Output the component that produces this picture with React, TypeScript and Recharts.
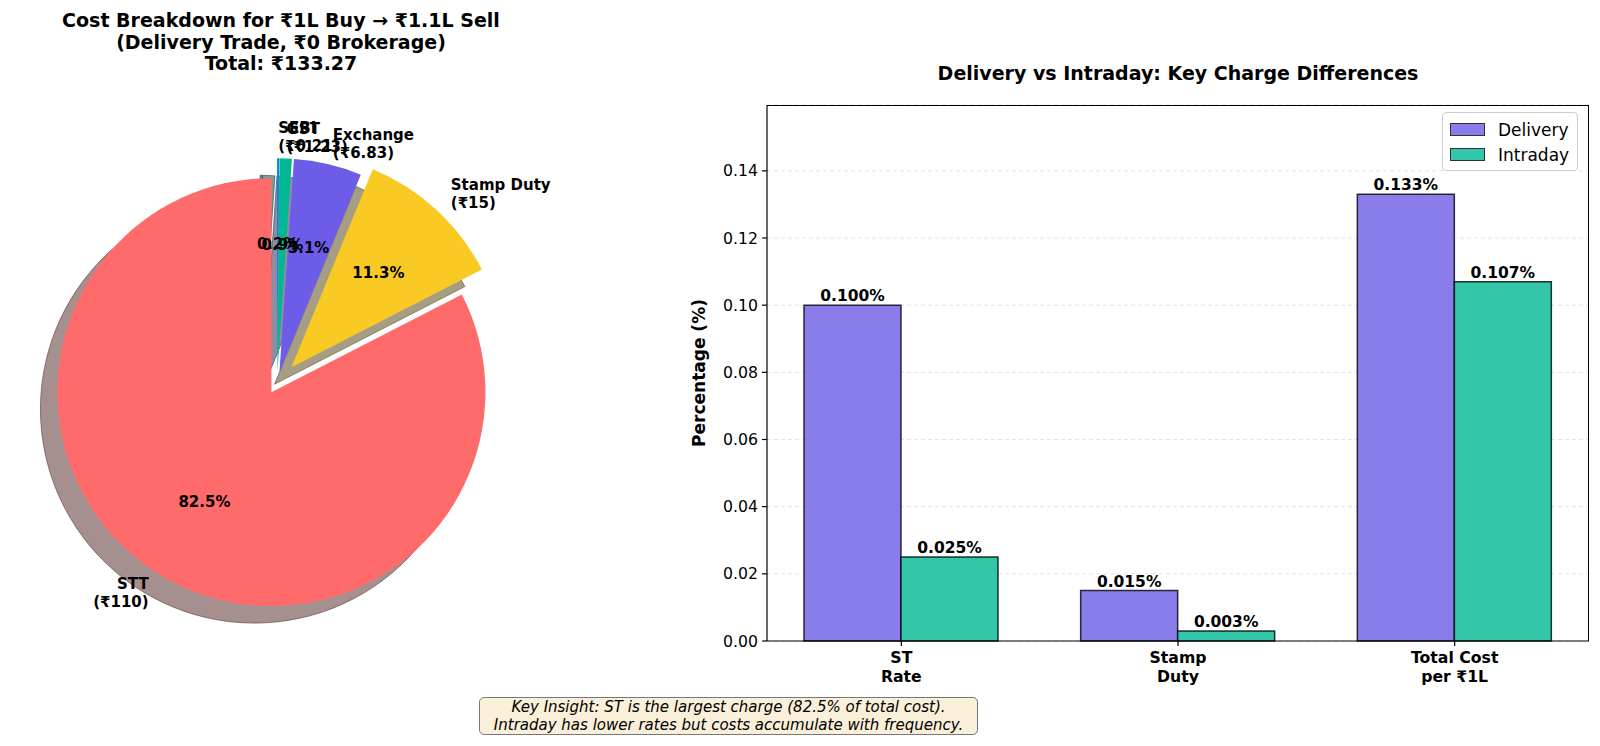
import {
  Bar,
  BarChart,
  CartesianGrid,
  Cell,
  LabelList,
  Legend,
  Pie,
  PieChart,
  XAxis,
  YAxis,
} from "recharts";

const FONT = "'DejaVu Sans', sans-serif";

// pie data (delivery trade costs, rupees)
const sliceNames = ["STT", "Stamp Duty", "Exchange", "GST", "SEBI"];
const sliceValues = [110, 15, 6.83, 1.23, 0.21];
const sliceColors = ["#FF6B6B", "#F9CA24", "#6C5CE7", "#00B894", "#0984E3"];
const sliceExplode = [0.05, 0.1, 0.05, 0.05, 0.05];

// bar data (% of turnover)
const chargeCategories = ["ST\nRate", "Stamp\nDuty", "Total Cost\nper ₹1L"];
const deliveryValues = [0.1, 0.015, 0.133];
const intradayValues = [0.025, 0.003, 0.107];
const yTicks = [0, 0.02, 0.04, 0.06, 0.08, 0.1, 0.12, 0.14];

const PIE_CX = 272;
const PIE_CY = 378;
const PIE_R = 214;
const SHADOW = 17;
const RAD = Math.PI / 180;

const pieData = sliceNames.map((name, i) => ({ name, value: sliceValues[i] }));
const barData = chargeCategories.map((category, i) => ({
  category,
  Delivery: deliveryValues[i],
  Intraday: intradayValues[i],
}));
const yMax = Math.max(...deliveryValues, ...intradayValues) * 1.2;

// explode offsets follow each slice's mid angle
const total = sliceValues.reduce((a, b) => a + b, 0);
const midAngles: number[] = [];
let acc = 0;
sliceValues.forEach((v) => {
  midAngles.push(90 + ((acc + v / 2) / total) * 360);
  acc += v;
});
const explodeOffset = (i: number) => {
  const d = sliceExplode[i] * PIE_R;
  return {
    dx: d * Math.cos(midAngles[i] * RAD),
    dy: -d * Math.sin(midAngles[i] * RAD),
  };
};

const shade = (hex: string) => {
  const n = parseInt(hex.slice(1), 16);
  const r = Math.round(((n >> 16) & 255) * 0.3);
  const g = Math.round(((n >> 8) & 255) * 0.3);
  const b = Math.round((n & 255) * 0.3);
  return `rgb(${r},${g},${b})`;
};

const renderPieLabel = (props: any) => {
  const { cx, cy, midAngle, outerRadius, index, percent, name, value } = props;
  const e = sliceExplode[index] * outerRadius;
  const cos = Math.cos(-midAngle * RAD);
  const sin = Math.sin(-midAngle * RAD);
  const ox = cx + e * cos;
  const oy = cy + e * sin;
  const lx = ox + 1.1 * outerRadius * cos;
  const ly = oy + 1.1 * outerRadius * sin;
  const px = ox + 0.6 * outerRadius * cos;
  const py = oy + 0.6 * outerRadius * sin;
  const anchor = cos >= 0 ? "start" : "end";
  return (
    <g key={`lbl-${index}`}>
      <text
        x={lx}
        y={ly}
        textAnchor={anchor}
        fontFamily={FONT}
        fontWeight="bold"
        fontSize={15}
        fill="#000"
      >
        <tspan x={lx} dy={-3.5}>
          {name}
        </tspan>
        <tspan x={lx} dy={18}>
          (₹{value})
        </tspan>
      </text>
      <text
        x={px}
        y={py}
        dy={5.5}
        textAnchor="middle"
        fontFamily={FONT}
        fontWeight="bold"
        fontSize={15}
        fill="#000"
      >
        {(percent * 100).toFixed(1)}%
      </text>
    </g>
  );
};

const CategoryTick = (props: any) => {
  const { x, y, payload } = props;
  const lines = String(payload.value).split("\n");
  return (
    <text
      x={x}
      y={y}
      textAnchor="middle"
      fontFamily={FONT}
      fontWeight="bold"
      fontSize={15.7}
      fill="#000"
    >
      {lines.map((line, i) => (
        <tspan key={i} x={x} dy={i === 0 ? 15 : 19}>
          {line}
        </tspan>
      ))}
    </text>
  );
};

const BarLegend = () => (
  <div
    style={{
      border: "1px solid #cccccc",
      borderRadius: 4,
      background: "rgba(255,255,255,0.8)",
      padding: "4px 8px 3px 7px",
      fontFamily: FONT,
      fontSize: 17,
    }}
  >
    {[
      { label: "Delivery", color: "#897DEC" },
      { label: "Intraday", color: "#33C6A9" },
    ].map((item) => (
      <div
        key={item.label}
        style={{ display: "flex", alignItems: "center", height: 25 }}
      >
        <span
          style={{
            display: "inline-block",
            width: 33,
            height: 11,
            background: item.color,
            border: "1.5px solid #333",
            marginRight: 13,
          }}
        />
        <span>{item.label}</span>
      </div>
    ))}
  </div>
);

export default function App() {
  return (
    <div
      style={{
        position: "absolute",
        left: 0,
        top: 0,
        width: 1600,
        height: 746,
        background: "#fff",
        fontFamily: FONT,
        color: "#000",
      }}
    >
      <div
        style={{
          position: "absolute",
          left: 31,
          top: 10,
          width: 500,
          textAlign: "center",
          fontWeight: "bold",
          fontSize: 19,
          lineHeight: "21.5px",
        }}
      >
        Cost Breakdown for ₹1L Buy → ₹1.1L Sell
        <br />
        (Delivery Trade, ₹0 Brokerage)
        <br />
        Total: ₹133.27
      </div>

      <div style={{ position: "absolute", left: 0, top: 0 }}>
        <PieChart width={620} height={690}>
          {sliceNames.map((_, i) => {
            const { dx, dy } = explodeOffset(i);
            return (
              <Pie
                key={`shadow-${i}`}
                data={pieData}
                dataKey="value"
                cx={PIE_CX + dx - SHADOW}
                cy={PIE_CY + dy + SHADOW}
                outerRadius={PIE_R}
                startAngle={90}
                endAngle={450}
                stroke="none"
                isAnimationActive={false}
              >
                {pieData.map((_, j) => (
                  <Cell
                    key={j}
                    fill={j === i ? shade(sliceColors[j]) : "none"}
                    fillOpacity={0.5}
                    stroke={j === i ? shade(sliceColors[j]) : "none"}
                    strokeOpacity={0.5}
                    strokeWidth={1}
                  />
                ))}
              </Pie>
            );
          })}
          {sliceNames.map((_, i) => {
            const { dx, dy } = explodeOffset(i);
            return (
              <Pie
                key={`slice-${i}`}
                data={pieData}
                dataKey="value"
                cx={PIE_CX + dx}
                cy={PIE_CY + dy}
                outerRadius={PIE_R}
                startAngle={90}
                endAngle={450}
                stroke="none"
                isAnimationActive={false}
              >
                {pieData.map((_, j) => (
                  <Cell key={j} fill={j === i ? sliceColors[j] : "none"} />
                ))}
              </Pie>
            );
          })}
          <Pie
            data={pieData}
            dataKey="value"
            cx={PIE_CX}
            cy={PIE_CY}
            outerRadius={PIE_R}
            startAngle={90}
            endAngle={450}
            fill="none"
            stroke="none"
            label={renderPieLabel}
            labelLine={false}
            isAnimationActive={false}
          />
        </PieChart>
      </div>

      <div
        style={{
          position: "absolute",
          left: 878,
          top: 61,
          width: 600,
          textAlign: "center",
          fontWeight: "bold",
          fontSize: 19,
          lineHeight: "24px",
        }}
      >
        Delivery vs Intraday: Key Charge Differences
      </div>

      <div
        style={{
          position: "absolute",
          left: 699 - 100,
          top: 373 - 11,
          width: 200,
          height: 22,
          lineHeight: "22px",
          textAlign: "center",
          fontWeight: "bold",
          fontSize: 17,
          transform: "rotate(-90deg)",
        }}
      >
        Percentage (%)
      </div>

      <div style={{ position: "absolute", left: 680, top: 0 }}>
        <BarChart
          width={920}
          height={746}
          data={barData}
          margin={{ top: 105, right: 11, bottom: 45, left: 17 }}
          barGap={0}
        >
          <CartesianGrid
            vertical={false}
            stroke="#b0b0b0"
            strokeOpacity={0.35}
            strokeDasharray="4 3"
          />
          <XAxis
            dataKey="category"
            height={60}
            padding={{ left: -4, right: -4 }}
            tick={<CategoryTick />}
            tickSize={5}
            tickMargin={2}
            axisLine={{ stroke: "#000", strokeWidth: 1.2 }}
            tickLine={{ stroke: "#000", strokeWidth: 1.2 }}
            interval={0}
          />
          <YAxis
            width={70}
            domain={[0, yMax]}
            ticks={yTicks}
            tickFormatter={(v: number) => v.toFixed(2)}
            tickSize={5}
            tickMargin={4}
            axisLine={{ stroke: "#000", strokeWidth: 1.2 }}
            tickLine={{ stroke: "#000", strokeWidth: 1.2 }}
            tick={{ fill: "#000", fontSize: 15.7, fontFamily: FONT }}
          />
          <Legend
            layout="vertical"
            align="center"
            verticalAlign="middle"
            content={<BarLegend />}
            wrapperStyle={{ left: 762, top: 112, width: "auto", height: "auto" }}
          />
          <Bar
            dataKey="Delivery"
            barSize={97}
            fill="#897DEC"
            stroke="#000"
            strokeOpacity={0.8}
            strokeWidth={1.5}
            isAnimationActive={false}
          >
            <LabelList
              dataKey="Delivery"
              position="top"
              offset={4}
              formatter={(v: any) => `${Number(v).toFixed(3)}%`}
              fill="#000"
              fontSize={15.5}
              fontWeight="bold"
              fontFamily={FONT}
            />
          </Bar>
          <Bar
            dataKey="Intraday"
            barSize={97}
            fill="#33C6A9"
            stroke="#000"
            strokeOpacity={0.8}
            strokeWidth={1.5}
            isAnimationActive={false}
          >
            <LabelList
              dataKey="Intraday"
              position="top"
              offset={4}
              formatter={(v: any) => `${Number(v).toFixed(3)}%`}
              fill="#000"
              fontSize={15.5}
              fontWeight="bold"
              fontFamily={FONT}
            />
          </Bar>
        </BarChart>
      </div>

      {/* top and right spines of the bar plot */}
      <div
        style={{
          position: "absolute",
          left: 767,
          top: 105,
          width: 822,
          height: 536,
          borderTop: "1.2px solid #000",
          borderRight: "1.2px solid #000",
          boxSizing: "border-box",
          pointerEvents: "none",
        }}
      />

      <div
        style={{
          position: "absolute",
          left: 479,
          top: 697,
          width: 497,
          height: 36,
          border: "1.5px solid #777",
          borderRadius: 5,
          background: "#FAEFD9",
          fontStyle: "italic",
          fontSize: 15,
          lineHeight: "18px",
          textAlign: "center",
          whiteSpace: "nowrap",
        }}
      >
        Key Insight: ST is the largest charge (82.5% of total cost).
        <br />
        Intraday has lower rates but costs accumulate with frequency.
      </div>
    </div>
  );
}
